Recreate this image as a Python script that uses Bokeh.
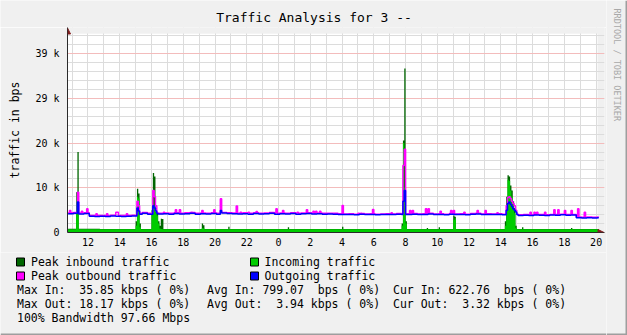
import numpy as np
from bokeh.plotting import figure
from bokeh.layouts import row, column
from bokeh.models import Range1d, FixedTicker, Arrow, NormalHead
from bokeh.core.properties import value
from bokeh.embed import file_html
from bokeh.resources import INLINE

# ---------------- data (bps), 5-minute samples starting 10:45 ----------------
T0 = 10.75          # first sample time (hours since midnight of day 1)
STEP = 5.0 / 60.0   # 5-minute samples
N = 401

# outgoing traffic, 20-minute base levels
OUT_20MIN = [4200, 4300, 4150, 4250, 3650, 3600, 3650, 3600, 3700, 3650,
             3600, 3650, 3700, 4100, 4300, 4100, 4250, 4150, 4200, 4100,
             4250, 4150, 4200, 4300, 4100, 4200, 4150, 4250, 4100, 4350,
             4250, 4200, 4150, 4200, 4100, 4250, 4150, 4200, 4300, 4100,
             4200, 4150, 4250, 4100, 4200, 4250, 4150, 4200, 4100, 4150,
             4100, 4050, 4000, 4050, 3950, 4100, 4000, 4050, 3950, 4000,
             4050, 4000, 4100, 4000, 4050, 4100, 4000, 4050, 4150, 4000,
             4050, 3950, 4100, 4000, 4050, 3950, 4100, 4150, 4000, 4050,
             4000, 4050, 3950, 4000, 4000, 3800, 3850, 3800, 3900, 3850,
             3800, 3900, 3850, 3950, 3850, 3900, 3300, 3250, 3300, 3250,
             3300]
# peak outbound traffic, 20-minute base levels
PEAK_OUT_20MIN = [4400, 4450, 4350, 4400, 3800, 3800, 3800, 3750, 3850, 3800,
                  3800, 3800, 3850, 4300, 4450, 4300, 4400, 4300, 4350, 4300,
                  4400, 4300, 4400, 4450, 4300, 4350, 4300, 4400, 4300, 4500,
                  4400, 4350, 4300, 4400, 4300, 4400, 4300, 4350, 4450, 4300,
                  4350, 4300, 4400, 4300, 4350, 4400, 4300, 4350, 4300, 4300,
                  4300, 4200, 4150, 4200, 4100, 4250, 4150, 4200, 4100, 4150,
                  4200, 4150, 4250, 4150, 4200, 4250, 4150, 4200, 4300, 4150,
                  4200, 4100, 4250, 4150, 4200, 4100, 4250, 4300, 4150, 4200,
                  4150, 4200, 4100, 4150, 4150, 3950, 4000, 3950, 4050, 4000,
                  3950, 4050, 4000, 4100, 4000, 4050, 3450, 3400, 3450, 3400,
                  3450]
# incoming / peak inbound, 2-hour base levels
IN_2H = [750, 720, 700, 720, 700, 720, 700, 720, 700, 720, 700, 720, 720, 700, 720, 700, 720]
PEAK_IN_2H = [850, 800, 780, 800, 780, 800, 780, 800, 780, 800, 780, 800, 800, 780, 800, 780, 800]

# individual 5-minute samples that stand out (hours may run past 24 = next day)
PEAK_IN_SPIKES = {
    "11:15": 9000, "11:20": 18000,
    "15:00": 2500, "15:05": 9800, "15:10": 8700, "15:15": 2000,
    "16:00": 5000, "16:05": 13300, "16:10": 12500, "16:15": 4600, "16:20": 4600,
    "16:25": 2500, "16:30": 1500, "16:35": 3100, "16:40": 3000,
    "19:10": 2000, "19:15": 1600, "20:50": 1300, "24:35": 1200, "28:00": 1300,
    "31:45": 2000, "31:50": 20600, "31:55": 36700, "32:00": 2500,
    "33:20": 1000, "34:05": 1200, "35:00": 3800, "35:05": 3500,
    "38:15": 2500, "38:20": 8000, "38:25": 12800, "38:30": 12500, "38:35": 10500,
    "38:40": 9400, "38:45": 7000, "38:50": 5500, "38:55": 1500,
    "39:20": 1200, "42:25": 1000,
}
IN_SPIKES = {
    "11:15": 8800, "11:20": 4000,
    "15:00": 1500, "15:05": 8000, "15:10": 7600, "15:15": 1200,
    "16:00": 4000, "16:05": 5500, "16:10": 6000, "16:15": 4500, "16:20": 3800,
    "16:25": 2000, "16:30": 900, "16:35": 800,
    "19:10": 1000, "19:15": 900,
    "31:45": 1500, "31:50": 20000, "31:55": 10000, "32:00": 2000,
    "35:00": 2800, "35:05": 3200,
    "38:15": 1500, "38:20": 5000, "38:25": 11800, "38:30": 11500, "38:35": 9400,
    "38:40": 8000, "38:45": 6000, "38:50": 4300, "38:55": 1000,
}
PEAK_OUT_SPIKES = {
    "10:50": 4900, "11:20": 9000, "11:35": 4770, "11:55": 5300, "12:30": 4200,
    "13:10": 4200, "13:45": 4540, "13:50": 4540, "14:25": 4200,
    "15:05": 7000, "15:10": 6000, "16:05": 9400, "16:10": 8000, "16:15": 6000,
    "16:45": 4540, "17:30": 5075, "17:45": 5075, "18:30": 4540, "19:10": 4900,
    "19:55": 5075, "20:20": 7530, "21:20": 5900, "21:35": 4540, "22:05": 4540,
    "22:35": 4700, "23:50": 5300, "24:15": 4900, "25:10": 4540, "25:45": 5075,
    "26:10": 4770, "26:20": 4770, "26:35": 4770, "27:00": 4320, "28:00": 6040,
    "29:00": 4320, "29:10": 4320, "29:55": 5150, "31:05": 4400,
    "31:50": 15000, "31:55": 18600, "32:15": 4900, "32:25": 4900,
    "33:15": 5300, "33:25": 5300, "34:10": 4770, "34:50": 4900, "35:00": 4900,
    "35:40": 4540, "36:30": 4900, "37:00": 4900, "37:45": 4400,
    "38:20": 6000, "38:25": 7800, "38:30": 8000, "38:35": 7600, "38:40": 7000,
    "38:45": 6500, "38:50": 6000, "38:55": 5000,
    "39:50": 4540, "40:05": 4540, "40:15": 4540, "40:45": 4540, "41:20": 5075,
    "41:35": 5075, "42:00": 4900, "42:25": 4900, "42:50": 5300, "43:15": 4540,
}
OUT_SPIKES = {
    "11:20": 6800, "15:05": 5500, "15:10": 4800,
    "16:05": 6000, "16:10": 5500, "16:15": 4800, "20:20": 4900,
    "31:50": 7000, "31:55": 9400,
    "38:20": 5000, "38:25": 6500, "38:30": 6800, "38:35": 6300, "38:40": 5800,
    "38:45": 5300, "38:50": 5000, "38:55": 4600,
}

Y_TICKS = [0, 10000, 20000, 30000, 40000]
Y_TICK_LABELS = ["0", "10 k", "20 k", "29 k", "39 k"]
Y_MINOR = [2000 * i for i in range(23)]
X_TICKS = [12, 14, 16, 18, 20, 22, 24, 26, 28, 30, 32, 34, 36, 38, 40, 42, 44]
X_TICK_LABELS = ["12", "14", "16", "18", "20", "22", "0", "2", "4", "6", "8",
                 "10", "12", "14", "16", "18", "20"]
X_GRID = list(range(11, 45))
MIDNIGHT = 24

TITLE = "Traffic Analysis for 3 --"
Y_TITLE = "traffic in bps"
LEGEND_NAMES = ["Peak inbound traffic", "Incoming traffic", "Peak outbound traffic", "Outgoing traffic"]
LEGEND_COLORS = ["#006600", "#00cc00", "#ff00ff", "#0000ff"]
STATS = [["Max In:  35.85 kbps ( 0%)", "Avg In: 799.07  bps ( 0%)", "Cur In: 622.76  bps ( 0%)"],
         ["Max Out: 18.17 kbps ( 0%)", "Avg Out:  3.94 kbps ( 0%)", "Cur Out:  3.32 kbps ( 0%)"]]
FOOT = "100% Bandwidth 97.66 Mbps"
SIDE = "RRDTOOL / TOBI OETIKER"


def keep_spaces(s):
    # SVG collapses runs of spaces; keep the monospaced alignment with no-break spaces
    return s.replace("  ", " \u00a0")


# ---------------- build series ----------------
t = T0 + np.arange(N) * STEP


def build(base, per, spikes):
    vals = np.array([base[min(k // per, len(base) - 1)] for k in range(N)], dtype=float)
    for hm, v in spikes.items():
        h, m = hm.split(":")
        k = int(round((int(h) + int(m) / 60.0 - T0) / STEP))
        vals[k] = v
    return vals


out_v = build(OUT_20MIN, 4, OUT_SPIKES)
pout_v = build(PEAK_OUT_20MIN, 4, PEAK_OUT_SPIKES)
in_v = build(IN_2H, 24, IN_SPIKES)
pin_v = build(PEAK_IN_2H, 24, PEAK_IN_SPIKES)

xs = np.append(t, t[-1] + STEP)


def ext(a):
    return np.append(a, a[-1])


# ---------------- layout constants (pixels) ----------------
W, H = 627, 335
MAIN_W = 606
TOP_H = 27                              # title strip
PL, PR, PT, PB = 67, 597, 33, 232       # plot (white canvas) area, page coordinates
FR = 604                                # frame extended right for the arrow head
MAIN_H = 252 - TOP_H
PX_PER_H = 15.88
X0 = 10.71
Y1 = 44500.0
PX_PER_Y = (PB - PT) / Y1
XP = X0 + (PR - PL) / PX_PER_H
XR = X0 + (FR - PL) / PX_PER_H
YT = (PB - TOP_H) / PX_PER_Y

BG = "#f0f0f0"
MONO = "DejaVu Sans Mono"
GRID = "#dcdcdc"
MGRID = "#f3bcbc"
AX = "#2a2a2a"
AR = "#801f1f"


def no_align(fig):
    try:
        fig.frame_align = False
    except Exception:
        pass


def strip(width, height, x0, x1, y0, y1):
    f = figure(width=width, height=height, output_backend="svg", toolbar_location=None,
               x_range=Range1d(x0, x1), y_range=Range1d(y0, y1),
               min_border=0, background_fill_color=BG, border_fill_color=BG,
               outline_line_color=None, x_axis_type=None, y_axis_type=None)
    f.grid.visible = False
    no_align(f)
    return f


# ---------------- title strip ----------------
top = strip(MAIN_W, TOP_H, 0, MAIN_W, 0, TOP_H)
top.text(x=[313.5], y=[TOP_H - 17], text=[TITLE], text_font=value(MONO), text_font_size=value("13px"),
         text_align="center", text_baseline="middle", text_color="black")

# ---------------- main chart ----------------
p = figure(width=MAIN_W, height=MAIN_H, output_backend="svg", toolbar_location=None,
           x_range=Range1d(X0, XR), y_range=Range1d(0, YT), title=None,
           min_border_left=PL, min_border_right=MAIN_W - FR, min_border_top=0,
           min_border_bottom=MAIN_H - (PB - TOP_H), background_fill_color=BG,
           border_fill_color=BG, outline_line_color=None)
no_align(p)

# white canvas under the grid
p.quad(left=X0, right=XP, bottom=0, top=Y1, fill_color="white", line_color=None, level="image")

p.xgrid.ticker = FixedTicker(ticks=X_GRID)
p.xgrid.grid_line_color = GRID
p.ygrid.ticker = FixedTicker(ticks=Y_TICKS, minor_ticks=Y_MINOR)
p.ygrid.grid_line_color = MGRID
p.ygrid.minor_grid_line_color = GRID
p.segment(x0=[MIDNIGHT], y0=[0], x1=[MIDNIGHT], y1=[Y1], line_color=MGRID, line_width=1, level="underlay")
# hide the grid in the strip above the canvas (room for the arrow head)
p.quad(left=X0, right=XR, bottom=Y1, top=YT, fill_color=BG, line_color=None)

p.xaxis.ticker = FixedTicker(ticks=X_TICKS)
p.xaxis.major_label_overrides = {k: v for k, v in zip(X_TICKS, X_TICK_LABELS)}
p.yaxis.ticker = FixedTicker(ticks=Y_TICKS)
p.yaxis.major_label_overrides = {k: v for k, v in zip(Y_TICKS, Y_TICK_LABELS)}
for ax in (p.xaxis, p.yaxis):
    ax.axis_line_color = AX
    ax.major_tick_out = 0
    ax.major_tick_in = 0
    ax.minor_tick_out = 0
    ax.minor_tick_in = 0
    ax.major_label_text_font = MONO
    ax.major_label_text_font_size = "10px"
    ax.major_label_text_color = "black"
p.xaxis.major_label_standoff = 5
p.yaxis.major_label_standoff = 8
p.yaxis.axis_label = Y_TITLE
p.yaxis.axis_label_text_font = MONO
p.yaxis.axis_label_text_font_size = "11.5px"
p.yaxis.axis_label_text_font_style = "normal"
p.yaxis.axis_label_text_color = "black"
p.yaxis.axis_label_standoff = 10

p.varea_step(x=xs, y1=0, y2=ext(pin_v), step_mode="after", fill_color="#006600")
p.varea_step(x=xs, y1=0, y2=ext(in_v), step_mode="after", fill_color="#00cc00")
p.step(x=xs, y=ext(pout_v), mode="after", line_color="#ff00ff", line_width=1.5)
p.step(x=xs, y=ext(out_v), mode="after", line_color="#0000ff", line_width=1.5)

# arrow heads at the ends of the axes
p.add_layout(Arrow(x_start=XP - 0.2, y_start=0, x_end=XR - 0.5 / PX_PER_H, y_end=0,
                   line_color=AX, line_width=1,
                   end=NormalHead(size=6, fill_color=AR, line_color=AR)))
p.add_layout(Arrow(x_start=X0, y_start=Y1 - 1000, x_end=X0, y_end=YT - 0.5 / PX_PER_Y,
                   line_color=AX, line_width=1,
                   end=NormalHead(size=6, fill_color=AR, line_color=AR)))

# ---------------- legend / statistics strip ----------------
LEG_H = H - 252
q = strip(MAIN_W, LEG_H, 0, MAIN_W, 0, LEG_H)


def qy(py):
    return H - py


rows_y = [261.5, 275.5, 289.5, 303.5, 317.5]
box_x = [20, 254, 20, 254]
box_y = [qy(rows_y[0]), qy(rows_y[0]), qy(rows_y[1]), qy(rows_y[1])]
q.rect(x=box_x, y=box_y, width=8, height=8, fill_color=LEGEND_COLORS, line_color="black", line_width=1)
q.text(x=[30.5, 264, 30.5, 264], y=box_y, text=LEGEND_NAMES, text_font=value(MONO),
       text_font_size=value("11.5px"), text_baseline="middle", text_align="left", text_color="black")
sx_list, sy_list, st_list = [], [], []
for r, line in enumerate(STATS):
    for cx, s_txt in zip([16.5, 206.5, 392.5], line):
        sx_list.append(cx)
        sy_list.append(qy(rows_y[2 + r]))
        st_list.append(keep_spaces(s_txt))
sx_list.append(16.5)
sy_list.append(qy(rows_y[4]))
st_list.append(keep_spaces(FOOT))
q.text(x=sx_list, y=sy_list, text=st_list, text_font=value(MONO),
       text_font_size=value("11.5px"), text_baseline="middle", text_align="left", text_color="black")
q.segment(x0=[0], y0=[1], x1=[MAIN_W], y1=[1], line_color="#9e9e9e", line_width=2)

# ---------------- right strip with the vertical credit ----------------
s = strip(W - MAIN_W, H, MAIN_W, W, 0, H)
s.text(x=[616.5], y=[H - 8], text=[SIDE], angle=-np.pi / 2, text_font=value(MONO),
       text_font_size=value("8.5px"), text_baseline="middle", text_align="left", text_color="#a8a8a8")
s.segment(x0=[W - 1, MAIN_W], y0=[0, 1], x1=[W - 1, W], y1=[H, 1], line_color="#9e9e9e", line_width=2)

layout = row(column(top, p, q, spacing=0), s, spacing=0)
open("out.html", "w").write(file_html(layout, INLINE))
